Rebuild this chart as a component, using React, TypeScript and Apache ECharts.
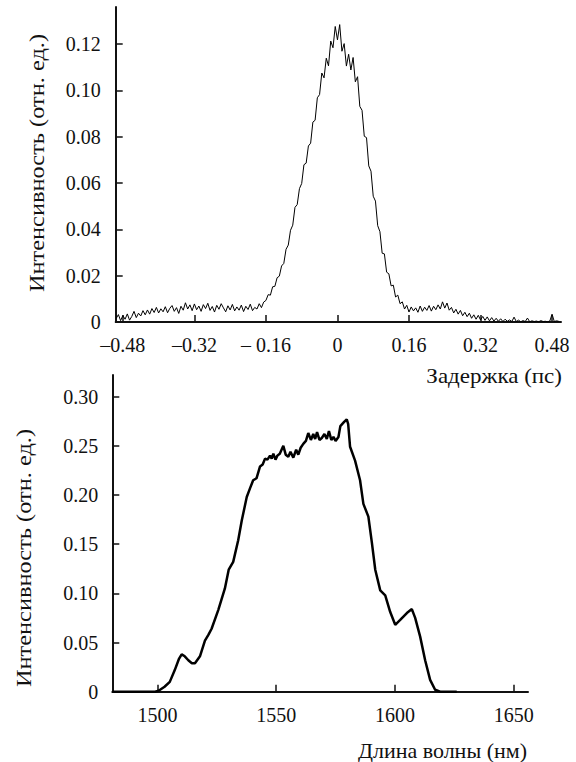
import React, { useEffect, useRef } from "react";
import * as echarts from "echarts";

// ---- Top chart: autocorrelation vs delay ----
const delayStart = -0.495; // ps, sampling grid start
const delayStep = 0.005; // ps, sampling grid step
// intensity in thousandths of rel. units
const delayIntensityMilli = [
  1.5, 3.2, 0.6, 2.8, 1.2, 3.5, 0.8, 2.4, 4.6, 1.9,
  3.8, 2.6, 4.9, 3.1, 5.2, 3.4, 5.8, 4.1, 6.3, 3.9,
  5.7, 4.4, 6.6, 4.0, 5.9, 7.1, 4.6, 6.2, 3.7, 6.8,
  5.1, 8.3, 5.6, 7.4, 4.9, 7.8, 5.3, 6.9, 4.6, 7.5,
  5.8, 8.1, 5.0, 6.7, 4.3, 7.2, 5.5, 7.9, 6.1, 4.4,
  7.0, 5.2, 7.6, 4.8, 6.5, 5.1, 7.3, 4.5, 6.8, 5.4,
  7.7, 4.9, 6.3, 5.6, 7.9, 6.2, 8.6, 9.3, 11.8, 11.6,
  15.2, 15.4, 19.1, 19.8, 24.2, 25.3, 31.4, 33.2, 39.6, 41.8,
  49.5, 50.7, 57.6, 59.8, 67.9, 68.6, 76.0, 77.2, 86.3, 87.1,
  96.8, 98.2, 107.5, 105.4, 113.9, 110.6, 121.3, 118.4, 127.6, 121.8,
  128.4, 116.9, 120.2, 110.5, 115.6, 108.8, 114.2, 103.7, 105.9, 93.1,
  91.4, 80.2, 79.6, 67.4, 65.1, 54.3, 52.2, 41.6, 39.0, 29.7,
  29.4, 21.5, 20.8, 15.6, 15.9, 10.8, 11.6, 7.9, 8.7, 5.6,
  7.2, 4.3, 6.5, 4.8, 6.1, 4.2, 6.9, 4.6, 6.4, 5.0,
  7.1, 4.7, 6.8, 5.3, 7.4, 5.6, 8.7, 6.0, 8.2, 5.1,
  6.3, 3.9, 5.5, 3.4, 5.0, 2.7, 4.2, 2.3, 3.8, 1.6,
  3.1, 1.2, 2.9, 0.9, 2.4, 0.7, 2.2, 0.5, 1.9, 0.4,
  1.6, 0.3, 1.4, 0.2, 1.2, 0.3, 0.9, 0.2, 2.1, 0.2,
  0.8, 0.1, 0.6, 0.2, 1.7, 0.1, 0.5, 0.2, 0.4, 0.1,
  0.6, 0.2, 0.3, 0.1, 0.4, 3.4, 0.2, 0.5, 0.3,
];
const delayTicks = [-0.48, -0.32, -0.16, 0, 0.16, 0.32, 0.48];
const delayTickLabels = ["–0.48", "–0.32", "– 0.16", "0", "0.16", "0.32", "0.48"];
const topIntensityTicks = [0, 0.02, 0.04, 0.06, 0.08, 0.1, 0.12];
const topIntensityLabels = ["0", "0.02", "0.04", "0.06", "0.08", "0.10", "0.12"];

// ---- Bottom chart: spectrum ----
const wavelengthNm = [
  1481, 1490, 1499, 1500.5, 1503, 1505.2, 1507.3, 1509, 1510.2, 1511.5,
  1513, 1514.5, 1515.8, 1517.9, 1520, 1521.5, 1522.8, 1525.6, 1528.4, 1530,
  1531.9, 1534, 1535.5, 1537.6, 1539, 1540.3, 1541.7, 1543.2, 1544.3, 1545.3,
  1546.3, 1547.4, 1548.1, 1548.8, 1549.7, 1550.5, 1551.5, 1553, 1554, 1555.1,
  1556, 1557.2, 1558.4, 1559.3, 1560.3, 1561.4, 1562.5, 1563.5, 1564.6, 1565.6,
  1566.4, 1567.2, 1568.2, 1569.2, 1570.3, 1571.3, 1572.2, 1573.2, 1574.1, 1575,
  1576.2, 1577, 1578.5, 1579.7, 1580.3, 1581.1, 1583.2, 1585.3, 1586.7, 1588.8,
  1590.3, 1591.7, 1593.8, 1595.9, 1598, 1600.1, 1602.2, 1605, 1607.1, 1608.5,
  1610.6, 1612.7, 1614.8, 1616.9, 1619, 1626,
];
const spectrumIntensity = [
  0, 0, 0, 0.001, 0.005, 0.01, 0.022, 0.033, 0.038, 0.036,
  0.032, 0.029, 0.029, 0.036, 0.052, 0.058, 0.064, 0.083, 0.105, 0.124,
  0.132, 0.154, 0.174, 0.198, 0.207, 0.215, 0.217, 0.229, 0.231, 0.237,
  0.236, 0.24, 0.237, 0.242, 0.236, 0.24, 0.242, 0.25, 0.241, 0.239,
  0.244, 0.238, 0.246, 0.241, 0.248, 0.252, 0.255, 0.263, 0.256, 0.262,
  0.257, 0.264, 0.256, 0.258, 0.262, 0.257, 0.265, 0.256, 0.259, 0.255,
  0.259, 0.27, 0.274, 0.277, 0.272, 0.249, 0.235, 0.215, 0.191, 0.178,
  0.151, 0.124, 0.103, 0.098, 0.081, 0.068, 0.073, 0.08, 0.084, 0.075,
  0.056, 0.032, 0.012, 0.002, 0, 0,
];
const wavelengthTicks = [1500, 1550, 1600, 1650];
const wavelengthTickLabels = ["1500", "1550", "1600", "1650"];
const bottomIntensityTicks = [0, 0.05, 0.1, 0.15, 0.2, 0.25, 0.3];
const bottomIntensityLabels = ["0", "0.05", "0.10", "0.15", "0.20", "0.25", "0.30"];

const yTitle = "Интенсивность (отн. ед.)";
const topXTitle = "Задержка (пс)";
const bottomXTitle = "Длина волны (нм)";

const FONT = "Times New Roman, serif";

function labelFor(ticks: number[], labels: string[]) {
  return (v: number) => {
    const i = ticks.findIndex((t) => Math.abs(t - v) < 1e-7);
    return i >= 0 ? labels[i] : "";
  };
}

function axisCommon(ticks: number[], labels: string[], margin: number) {
  return {
    splitLine: { show: false },
    axisLine: { show: true, onZero: false, lineStyle: { color: "#111", width: 2 } },
    axisTick: {
      show: true,
      inside: true,
      length: 7,
      customValues: ticks,
      lineStyle: { color: "#111", width: 1.5 },
    },
    axisLabel: {
      customValues: ticks,
      formatter: labelFor(ticks, labels),
      color: "#111",
      fontFamily: FONT,
      fontSize: 20,
      margin,
    },
  };
}

function titleText(text: string, x: number, y: number, opts: any) {
  const { align, ...rest } = opts;
  return {
    type: "text",
    x,
    y,
    ...rest,
    style: {
      text,
      fontFamily: FONT,
      fontSize: 20,
      fill: "#111",
      align: align || "center",
      verticalAlign: "middle",
    },
  };
}

function Panel({ height, top, build }: { height: number; top: number; build: () => any }) {
  const ref = useRef<HTMLDivElement>(null);
  useEffect(() => {
    if (!ref.current) return;
    const chart = echarts.init(ref.current, undefined, { renderer: "svg" });
    chart.setOption(build());
    return () => chart.dispose();
  }, []);
  return (
    <div ref={ref} style={{ position: "absolute", left: 0, top, width: 576, height }} />
  );
}

function topOption() {
  const topData = delayIntensityMilli.map((v, i) => [delayStart + i * delayStep, v / 1000]);
  return {
    animation: false,
    grid: { left: 115.7, top: 7, width: 445.3, height: 315 },
    xAxis: {
      type: "value",
      min: -0.496,
      max: 0.5,
      ...axisCommon(delayTicks, delayTickLabels, 13),
    },
    yAxis: {
      type: "value",
      min: 0,
      max: 0.136,
      ...axisCommon(topIntensityTicks, topIntensityLabels, 15),
    },
    series: [
      {
        type: "line",
        data: topData,
        showSymbol: false,
        lineStyle: { color: "#000", width: 1 },
      },
    ],
    graphic: [
      titleText(yTitle, 37, 163, { rotation: Math.PI / 2, scaleX: 1.22 }),
      titleText(topXTitle, 562, 377, { scaleX: 1.15, align: "right" }),
    ],
  };
}

function bottomOption() {
  const bottomData = wavelengthNm.map((w, i) => [w, spectrumIntensity[i]]);
  const off = 370;
  return {
    animation: false,
    grid: { left: 112.3, top: 375 - off, width: 415.7, height: 316.7 },
    xAxis: {
      type: "value",
      min: 1481,
      max: 1656,
      ...axisCommon(wavelengthTicks, wavelengthTickLabels, 13),
    },
    yAxis: {
      type: "value",
      min: 0,
      max: 0.322,
      ...axisCommon(bottomIntensityTicks, bottomIntensityLabels, 14),
    },
    series: [
      {
        type: "line",
        data: bottomData,
        showSymbol: false,
        lineStyle: { color: "#000", width: 2.5 },
      },
    ],
    graphic: [
      titleText(yTitle, 24, 558 - off, { rotation: Math.PI / 2, scaleX: 1.22 }),
      titleText(bottomXTitle, 527, 751 - off, { scaleX: 1.1, align: "right" }),
    ],
  };
}

export default function App() {
  return (
    <div style={{ position: "absolute", left: 0, top: 0, width: 576, height: 762 }}>
      <Panel top={0} height={392} build={topOption} />
      <Panel top={370} height={392} build={bottomOption} />
    </div>
  );
}
